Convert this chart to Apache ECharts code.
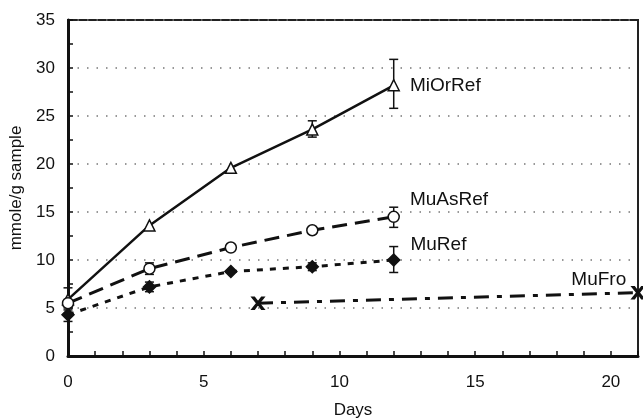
<!DOCTYPE html>
<html>
<head>
<meta charset="utf-8">
<script src="https://cdn.jsdelivr.net/npm/echarts@6/dist/echarts.min.js"></script>
<style>html,body{margin:0;padding:0;background:#fff}#c{width:643px;height:418px}</style>
</head>
<body>
<div id="c"></div>
<script>
// ---- data ----
const seriesNames = ['MiOrRef', 'MuAsRef', 'MuRef', 'MuFro'];
const miOrRef = [[0, 5.9], [3, 13.6], [6, 19.6], [9, 23.6], [12, 28.2]];
const muAsRef = [[0, 5.5], [3, 9.1], [6, 11.3], [9, 13.1], [12, 14.5]];
const muRef = [[0, 4.3], [3, 7.2], [6, 8.8], [9, 9.3], [12, 10.0]];
const muFro = [[7, 5.5], [21, 6.6]];
// error bars: [day, low, high]
const miOrRefErr = [[0, 4.8, 7.1], [9, 22.8, 24.5], [12, 25.8, 30.9]];
const muAsRefErr = [[3, 8.5, 9.7], [12, 13.4, 15.5]];
const muRefErr = [[0, 3.6, 5.0], [3, 6.7, 7.7], [9, 8.9, 9.7], [12, 8.7, 11.4]];
const xTicks = [0, 5, 10, 15, 20];
const yTicks = [0, 5, 10, 15, 20, 25, 30, 35];

const FONT = 'Liberation Sans, Arial, sans-serif';
const chart = echarts.init(document.getElementById('c'));

function errSeries(data) {
  return {
    type: 'custom',
    data: data,
    encode: { x: 0, y: [1, 2] },
    z: 3,
    silent: true,
    clip: false,
    renderItem: function (params, api) {
      const x = api.value(0);
      const top = api.coord([x, api.value(2)]);
      const bot = api.coord([x, api.value(1)]);
      const w = 4.5;
      const st = { stroke: '#111', lineWidth: 1.5 };
      return {
        type: 'group',
        children: [
          { type: 'line', shape: { x1: top[0], y1: top[1], x2: bot[0], y2: bot[1] }, style: st },
          { type: 'line', shape: { x1: top[0] - w, y1: top[1], x2: top[0] + w, y2: top[1] }, style: st },
          { type: 'line', shape: { x1: bot[0] - w, y1: bot[1], x2: bot[0] + w, y2: bot[1] }, style: st }
        ]
      };
    }
  };
}

function lineSeries(name, data, lineType, symbol, symbolSize, fill, labelCfg) {
  return {
    name: name,
    type: 'line',
    data: data,
    z: 4,
    clip: false,
    symbol: symbol,
    symbolSize: symbolSize,
    lineStyle: { color: '#111', width: lineType === 'solid' ? 2.5 : 3, type: lineType },
    itemStyle: { color: fill, borderColor: '#111', borderWidth: 1.5 },
    label: {
      show: true,
      formatter: function (p) { return p.dataIndex === data.length - 1 ? name : ''; },
      position: labelCfg.position,
      offset: labelCfg.offset,
      fontFamily: FONT,
      fontSize: 19,
      color: '#111'
    }
  };
}

const xPath = 'path://M0,0 L2,0 L5,4 L8,0 L10,0 L6,5 L10,10 L8,10 L5,6 L2,10 L0,10 L4,5 Z';

chart.setOption({
  animation: false,
  backgroundColor: '#fff',
  grid: { left: 68, right: 5, top: 20, bottom: 62, outerBoundsMode: 'none', containLabel: false, show: true, borderColor: '#222', borderWidth: 2 },
  xAxis: {
    type: 'value', min: 0, max: 21, interval: 1,
    name: 'Days', nameLocation: 'middle', nameGap: 46,
    nameTextStyle: { fontFamily: FONT, fontSize: 17, color: '#111' },
    axisLine: { show: true, onZero: false, lineStyle: { color: '#111', width: 3 } },
    axisTick: { show: true, inside: true, length: 5, lineStyle: { color: '#111', width: 1.5 } },
    axisLabel: {
      fontFamily: FONT, fontSize: 17, color: '#111', margin: 18,
      formatter: function (v) { return xTicks.indexOf(v) >= 0 ? String(v) : ''; }
    },
    splitLine: { show: false }
  },
  yAxis: {
    type: 'value', min: 0, max: 35, interval: 5,
    name: 'mmole/g sample', nameLocation: 'middle', nameGap: 38,
    nameTextStyle: { fontFamily: FONT, fontSize: 17, color: '#111' },
    axisLine: { show: true, lineStyle: { color: '#111', width: 3 } },
    axisTick: { show: true, inside: true, length: 5, lineStyle: { color: '#111', width: 1.5 } },
    minorTick: { show: true, splitNumber: 2, length: 5, lineStyle: { color: '#111', width: 1.5 } },
    axisLabel: {
      fontFamily: FONT, fontSize: 17, color: '#111', margin: 13,
      formatter: function (v) { return yTicks.indexOf(v) >= 0 ? String(v) : ''; }
    },
    splitLine: { show: true, lineStyle: { color: '#777', width: 1.5, type: [1.5, 8] } }
  },
  series: [
    lineSeries(seriesNames[0], miOrRef, 'solid', 'triangle', 11, '#fff', { position: 'right', offset: [5, 0] }),
    lineSeries(seriesNames[1], muAsRef, [15, 8], 'circle', 11, '#fff', { position: 'right', offset: [5, -17] }),
    lineSeries(seriesNames[2], muRef, [6, 7], 'diamond', 12, '#111', { position: 'right', offset: [5, -15] }),
    lineSeries(seriesNames[3], muFro, [15, 8, 5, 8], xPath, 12, '#111', { position: 'left', offset: [0, -13] }),
    errSeries(miOrRefErr),
    errSeries(muAsRefErr),
    errSeries(muRefErr)
  ]
});
</script>
</body>
</html>
